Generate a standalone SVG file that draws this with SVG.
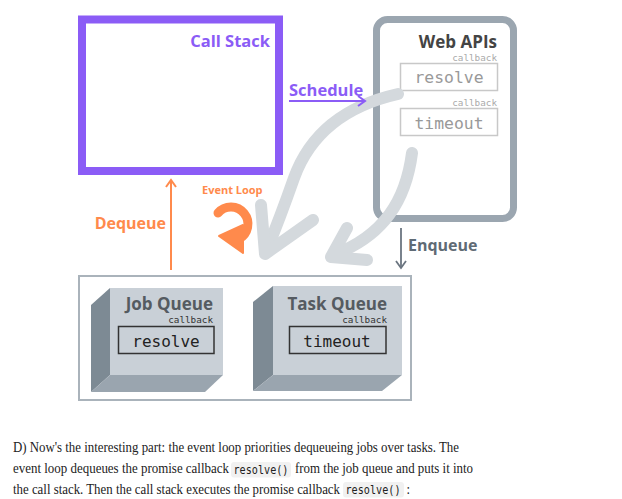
<svg xmlns="http://www.w3.org/2000/svg" width="622" height="499" viewBox="0 0 622 499">
<defs>
<style>
.h{font-family:"Open Sans","Liberation Sans",sans-serif;font-weight:700}
.mono{font-family:"DejaVu Sans Mono","Liberation Mono",monospace}
.body{font-family:"Liberation Serif","Times New Roman",serif;font-size:15px;fill:#222}
.code{font-family:"DejaVu Sans Mono","Liberation Mono",monospace;font-size:12px;fill:#222}
.front{fill:#c9d0d7}
.side{fill:#7d8a94}
.bottom{fill:#9aa5af}
.garrow{fill:none;stroke:#d4d9dd;stroke-width:12;stroke-linecap:round;stroke-linejoin:round}
</style>
</defs>
<rect width="622" height="499" fill="#fff"/>

<g id="call-stack">
<rect x="82" y="19.5" width="197" height="151.5" fill="#fff" stroke="#8b5cf6" stroke-width="8"/>
<text class="h" x="270" y="47" font-size="16.5" fill="#8b5cf6" text-anchor="end">Call Stack</text>
</g>

<g id="web-apis">
<rect x="376.5" y="19.5" width="137" height="199" rx="11" fill="#fff" stroke="#9ba6b0" stroke-width="7"/>
<text class="h" x="497" y="48" font-size="17" fill="#444" text-anchor="end">Web APIs</text>
<text class="mono" x="497" y="61" font-size="9.3" fill="#aaa" text-anchor="end">callback</text>
<rect x="400.5" y="63.5" width="97" height="27" fill="#fff" stroke="#c8c8c8" stroke-width="1.5"/>
<text class="mono" x="449" y="83" font-size="16.4" fill="#999" text-anchor="middle">resolve</text>
<text class="mono" x="497" y="106" font-size="9.3" fill="#aaa" text-anchor="end">callback</text>
<rect x="400.5" y="108.5" width="97" height="27" fill="#fff" stroke="#c8c8c8" stroke-width="1.5"/>
<text class="mono" x="449" y="129" font-size="16.4" fill="#999" text-anchor="middle">timeout</text>
</g>

<g id="queues">
<rect x="79" y="276" width="332" height="124" fill="#fff" stroke="#aab3bb" stroke-width="2"/>
</g>

<g id="job-queue">
<polygon class="side" points="110,288 110,375 91,392 91,305"/>
<polygon class="bottom" points="110,375 223,375 205,392 91,392"/>
<rect class="front" x="110" y="288" width="113" height="87"/>
<text class="h" x="213" y="310" font-size="17" fill="#555b61" text-anchor="end">Job Queue</text>
<text class="mono" x="213" y="323" font-size="9.3" fill="#333" text-anchor="end">callback</text>
<rect x="118.5" y="326.5" width="95.5" height="27" fill="none" stroke="#333" stroke-width="1.5"/>
<text class="mono" x="166" y="347" font-size="16" fill="#222" text-anchor="middle">resolve</text>
</g>

<g id="task-queue">
<polygon class="side" points="273,286 273,375 253,391 253,302"/>
<polygon class="bottom" points="273,375 402,375 382,391 253,391"/>
<rect class="front" x="273" y="286" width="129" height="89"/>
<text class="h" x="387" y="310" font-size="17" fill="#555b61" text-anchor="end">Task Queue</text>
<text class="mono" x="387" y="323" font-size="9.3" fill="#333" text-anchor="end">callback</text>
<rect x="289.5" y="326.5" width="96.5" height="27" fill="none" stroke="#333" stroke-width="1.5"/>
<text class="mono" x="337" y="347" font-size="16" fill="#222" text-anchor="middle">timeout</text>
</g>

<g id="connectors">
<path class="garrow" d="M398,94 Q318,112 294,178 Q280,218 266,252"/>
<path class="garrow" d="M261,205 L265,254 L313,220"/>
<path class="garrow" d="M412,153 C406,200 384,236 333,255"/>
<path class="garrow" d="M347,228 L331,257 L367,260"/>

<g stroke="#8b5cf6" stroke-width="2" fill="none">
<line x1="289" y1="101" x2="364" y2="101"/>
<polyline points="358,96 365,101 358,106"/>
</g>
<text class="h" x="289" y="96" font-size="16.5" fill="#8b5cf6">Schedule</text>

<g stroke="#6b7580" stroke-width="1.8" fill="none">
<line x1="401" y1="228" x2="401" y2="267"/>
<polyline points="396,261 401,268 406,261"/>
</g>
<text class="h" x="408" y="251" font-size="16" fill="#5f6b75">Enqueue</text>

<g stroke="#ff8a4c" stroke-width="2" fill="none">
<line x1="171" y1="270" x2="171" y2="181"/>
<polyline points="166,187 171,180 176,187"/>
</g>
<text class="h" x="166" y="229" font-size="16" fill="#ff8a4c" text-anchor="end">Dequeue</text>
</g>

<g id="event-loop">
<text class="h" x="202" y="194" font-size="11" fill="#ff8a4c">Event Loop</text>
<path d="M218,213 A17,17 0 1 1 239,239" fill="none" stroke="#ff8a4c" stroke-width="9" stroke-linecap="round"/>
<polygon points="243,225 243,253 219,236" fill="#ff8a4c" stroke="#ff8a4c" stroke-width="2" stroke-linejoin="round"/>
</g>

<g id="caption" transform="scale(0.85,1)">
<text class="body" x="15.3" y="452" textLength="524.7" lengthAdjust="spacingAndGlyphs">D) Now's the interesting part: the event loop priorities dequeueing jobs over tasks. The</text>
<text class="body" x="15.3" y="473" textLength="254.1" lengthAdjust="spacingAndGlyphs">event loop dequeues the promise callback</text>
<rect x="271.8" y="462" width="70.6" height="15.5" rx="3.5" fill="#f1f1f1"/>
<text class="code" x="274.7" y="474" textLength="64.7" lengthAdjust="spacingAndGlyphs">resolve()</text>
<text class="body" x="347.1" y="473" textLength="209.4" lengthAdjust="spacingAndGlyphs">from the job queue and puts it into</text>
<text class="body" x="15.3" y="494" textLength="384.7" lengthAdjust="spacingAndGlyphs">the call stack. Then the call stack executes the promise callback</text>
<rect x="403.5" y="482" width="71.8" height="15.5" rx="3.5" fill="#f1f1f1"/>
<text class="code" x="406.5" y="494" textLength="64.7" lengthAdjust="spacingAndGlyphs">resolve()</text>
<text class="body" x="478.2" y="494">:</text>
</g>
</svg>
